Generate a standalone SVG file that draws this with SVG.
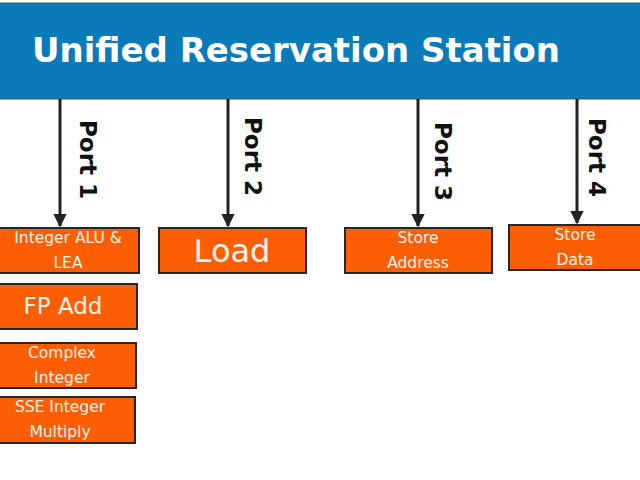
<svg xmlns="http://www.w3.org/2000/svg" width="640" height="480" viewBox="0 0 640 480">
<style>
.box{fill:#fc5e03;stroke:#262626;stroke-width:2}
.t{font-family:"DejaVu Sans",Verdana,sans-serif;fill:#fff3ee;text-anchor:middle}
.s{font-size:15.5px}
.port{font-family:"DejaVu Sans",Verdana,sans-serif;font-weight:bold;font-size:23px;fill:#111}
.arr{stroke:#222;stroke-width:3;fill:none;marker-end:url(#ah)}
</style>
<defs>
<marker id="ah" viewBox="0 0 10 10" refX="9" refY="5" markerWidth="4.5" markerHeight="4.5" orient="auto" markerUnits="strokeWidth">
<path d="M0,0 L10,5 L0,10 Z" fill="#222"/>
</marker>
</defs>
<rect width="640" height="480" fill="#fff"/>
<g id="station">
<rect x="-2" y="3" width="644" height="96" fill="#0a7ab8" stroke="#555" stroke-width="1"/>
<text x="296" y="62" class="t" style="font-weight:bold;font-size:33px;fill:#fff" textLength="528" lengthAdjust="spacingAndGlyphs">Unified Reservation Station</text>
</g>
<g id="connectors">
<line x1="60" y1="99" x2="60" y2="226" class="arr"/>
<line x1="228" y1="99" x2="228" y2="226" class="arr"/>
<line x1="418" y1="99" x2="418" y2="226" class="arr"/>
<line x1="577" y1="99" x2="577" y2="223" class="arr"/>
<text class="port" transform="translate(80,120) rotate(90)">Port 1</text>
<text class="port" transform="translate(245,117) rotate(90)">Port 2</text>
<text class="port" transform="translate(435,122) rotate(90)">Port 3</text>
<text class="port" transform="translate(589,118) rotate(90)">Port 4</text>
</g>
<g id="alu">
<rect x="-5" y="228" width="144" height="45" class="box"/>
<text x="68" y="243" class="t s">Integer ALU &amp;</text>
<text x="68" y="268" class="t s">LEA</text>
</g>
<g id="load">
<rect x="159" y="228" width="147" height="45" class="box"/>
<text x="232" y="262" class="t" style="font-size:32px">Load</text>
</g>
<g id="storeaddr">
<rect x="345" y="228" width="147" height="45" class="box"/>
<text x="418" y="243" class="t s">Store</text>
<text x="418" y="268" class="t s">Address</text>
</g>
<g id="storedata">
<rect x="509" y="225" width="140" height="45" class="box"/>
<text x="575" y="240" class="t s">Store</text>
<text x="575" y="265" class="t s">Data</text>
</g>
<g id="fpadd">
<rect x="-5" y="284" width="142" height="45" class="box"/>
<text x="63" y="314" class="t" style="font-size:23px">FP Add</text>
</g>
<g id="complex">
<rect x="-5" y="343" width="141" height="45" class="box"/>
<text x="62" y="358" class="t s">Complex</text>
<text x="62" y="383" class="t s">Integer</text>
</g>
<g id="sse">
<rect x="-5" y="397" width="140" height="46" class="box"/>
<text x="60" y="412" class="t s">SSE Integer</text>
<text x="60" y="437" class="t s">Multiply</text>
</g>
</svg>
